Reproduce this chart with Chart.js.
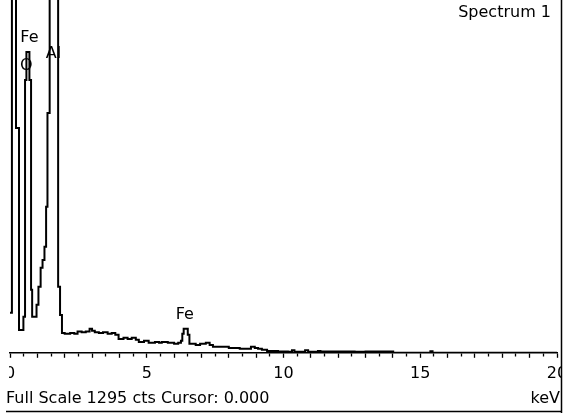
<!DOCTYPE html>
<html>
<head>
<meta charset="utf-8">
<script src="https://cdn.jsdelivr.net/npm/chart.js@4.4.1/dist/chart.umd.min.js"></script>
<style>
  html, body { margin: 0; padding: 0; background: #fff; }
  #wrap { width: 563px; height: 413px; position: relative; }
</style>
</head>
<body>
<div id="wrap"><canvas id="chart" width="563" height="413"></canvas></div>
<script>
// spectrum (keV, counts); each value holds until the next energy
const energies = [0.00, 0.07, 0.22, 0.33, 0.49, 0.55, 0.60, 0.71, 0.77, 0.81, 0.97, 1.04, 1.12, 1.19, 1.26, 1.32, 1.37, 1.45, 1.76, 1.83,
  1.90, 2.00, 2.20, 2.35, 2.47, 2.62, 2.77, 2.91, 3.00, 3.10, 3.25, 3.40, 3.57, 3.72, 3.85, 3.97, 4.15, 4.30, 4.45, 4.60,
  4.71, 4.90, 5.07, 5.30, 5.45, 5.55, 5.77, 6.00, 6.15, 6.25, 6.30, 6.35, 6.50, 6.56, 6.79, 6.95, 7.16, 7.30, 7.42, 7.70,
  8.00, 8.40, 8.81, 8.95, 9.07, 9.21, 9.40, 9.80, 10.16, 10.31, 10.40, 10.79, 10.90, 11.26, 11.35, 12.00, 12.60, 13.00, 14.01, 15.37,
  15.45, 20.00];
const counts = [147, 3000, 825, 84, 132, 1001, 1104, 1001, 231, 132, 176, 242, 312, 341, 389, 536, 880, 3000, 242, 139,
  73, 70, 73, 70, 78, 75, 78, 88, 81, 75, 73, 75, 70, 73, 66, 51, 55, 51, 55, 48,
  40, 44, 37, 40, 37, 40, 37, 33, 37, 44, 70, 88, 66, 33, 29, 33, 37, 29, 22, 22,
  18, 15, 22, 18, 15, 11, 7, 5, 4, 9, 4, 9, 4, 7, 5, 5, 4, 5, 0, 6,
  0, 0];
const xLabels = [0, 5, 10, 15, 20];
const fullScale = 1295;

// element labels: name, energy (keV), height (counts)
const peakNames = ['Fe', 'O', 'Al', 'Fe'];
const peakEnergies = [0.71, 0.60, 1.59, 6.39];
const peakHeights = [1155, 1053, 1097, 139];

const FONT = '"DejaVu Sans", sans-serif';

const extras = {
  id: 'extras',
  afterDraw(chart) {
    const ctx = chart.ctx;
    const xs = chart.scales.x, ys = chart.scales.y;
    ctx.save();
    ctx.fillStyle = '#000';
    ctx.font = '16px ' + FONT;
    ctx.textAlign = 'center';
    ctx.textBaseline = 'middle';
    peakNames.forEach((n, i) => {
      ctx.fillText(n, xs.getPixelForValue(peakEnergies[i]), ys.getPixelForValue(peakHeights[i]));
    });

    ctx.textAlign = 'right';
    ctx.fillText('Spectrum 1', 551, 13);

    // left edge hides part of the first tick label
    ctx.fillStyle = '#fff';
    ctx.fillRect(0, xs.top + 6, 9, 24);
    ctx.fillRect(561, 0, 2, 413);

    ctx.fillStyle = '#000';
    ctx.textAlign = 'left';
    ctx.fillText('Full Scale ' + fullScale + ' cts Cursor: 0.000', 6, 399);
    ctx.textAlign = 'right';
    ctx.fillText('keV', 560, 399);

    ctx.strokeStyle = '#000';
    ctx.lineWidth = 1.5;
    ctx.beginPath();
    ctx.moveTo(561.5, 0); ctx.lineTo(561.5, 413);
    ctx.moveTo(6, 411.5); ctx.lineTo(562, 411.5);
    ctx.stroke();
    ctx.restore();
  }
};

new Chart(document.getElementById('chart').getContext('2d'), {
  type: 'line',
  data: {
    datasets: [{
      data: energies.map((e, i) => ({ x: e, y: counts[i] })),
      borderColor: '#000',
      borderWidth: 2,
      pointRadius: 0,
      stepped: 'before',
      fill: false
    }]
  },
  options: {
    responsive: false,
    animation: false,
    devicePixelRatio: 1,
    layout: { padding: { left: 10, right: 6, top: 0, bottom: 24 } },
    plugins: { legend: { display: false }, tooltip: { enabled: false } },
    scales: {
      x: {
        type: 'linear', min: 0, max: 20,
        border: { display: true, color: '#000', width: 1.5 },
        grid: {
          drawOnChartArea: false, tickLength: 5, tickColor: '#000', tickWidth: 1.3,
          tickBorderDash: c => (c.tick && c.tick.value % 1 !== 0) ? [3, 10] : []
        },
        ticks: {
          stepSize: 0.5, autoSkip: false, maxRotation: 0, padding: 6, color: '#000',
          font: { family: FONT, size: 16 },
          callback: v => xLabels.includes(v) ? String(v) : ''
        },
        afterFit: s => { s.paddingLeft = 0; s.paddingRight = 0; }
      },
      y: { display: false, min: 0, max: fullScale }
    }
  },
  plugins: [extras]
});
</script>
</body>
</html>
